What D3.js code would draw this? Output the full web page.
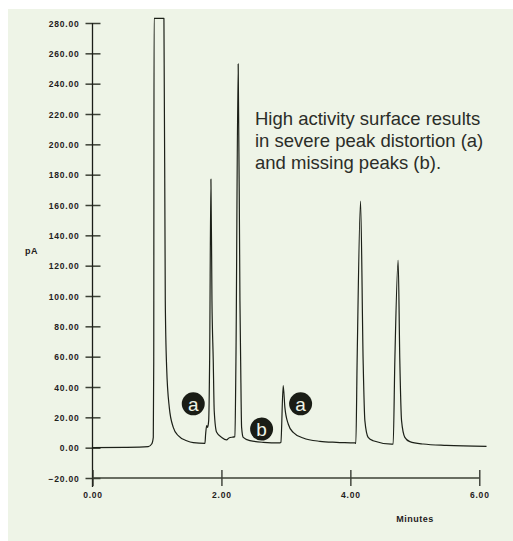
<!DOCTYPE html>
<html>
<head>
<meta charset="utf-8">
<script src="https://cdn.jsdelivr.net/npm/d3@7"></script>
<style>
  html, body { margin: 0; padding: 0; background: #fff; }
  svg { display: block; font-family: "Liberation Sans", Arial, Helvetica, sans-serif; }
</style>
</head>
<body>
<div id="chart"></div>
<script>
// chromatogram trace (minutes, pA)
const traceTimes = [
  0.00, 0.50, 0.865, 0.918, 0.943, 0.950, 0.955, 1.108, 1.129, 1.150, 1.191, 1.253, 1.330, 1.460, 1.563, 1.744,
  1.755, 1.771, 1.786, 1.802, 1.817, 1.837, 1.853, 1.873, 1.888, 1.926, 2.003, 2.081, 2.116, 2.209,
  2.225, 2.260, 2.287, 2.298, 2.313, 2.338, 2.442, 2.648, 2.907,
  2.922, 2.958, 2.984, 3.036, 3.113, 3.268, 3.527, 3.786, 4.070,
  4.085, 4.105, 4.158, 4.198, 4.225, 4.276, 4.353, 4.638, 4.664,
  4.690, 4.741, 4.767, 4.794, 4.845, 4.922, 5.129, 5.491, 6.112
]
const traceValues = [
  0.0, 0.2, 0.7, 2.4, 6.8, 57, 283, 283, 97, 53, 26.6, 13.4, 7.9, 4.6, 3.3, 2.8,
  9.0, 14.5, 13.4, 17.8, 57.5, 177, 97, 57.5, 24.4, 10.1, 6.8, 5.1, 6.4, 7.3,
  57.5, 253, 97, 57.5, 13.4, 6.8, 4.6, 3.5, 3.1,
  3.5, 41, 26.6, 15.6, 10.1, 6.4, 4.2, 3.5, 3.1,
  2.8, 57.5, 162.5, 57.5, 17.8, 6.8, 4.6, 2.4, 2.4,
  57.5, 123.5, 57.5, 17.8, 6.8, 4.0, 2.4, 1.5, 0.9
]

// circled markers
const markerLabels = ['a', 'b', 'a']
const markerTimes = [1.563, 2.623, 3.228]
const markerValues = [28.9, 12.3, 28.9]

const xTicks = [0, 2, 4, 6]
const yTicks = [-20, 0, 20, 40, 60, 80, 100, 120, 140, 160, 180, 200, 220, 240, 260, 280]

const noteLines = [
  'High activity surface results',
  'in severe peak distortion (a)',
  'and missing peaks (b).'
]

const width = 513
const height = 541

const svg = d3.select('#chart')
  .append('svg')
  .attr('width', width)
  .attr('height', height)

// panel
svg.append('rect')
  .attr('x', 8).attr('y', 9)
  .attr('width', width - 8).attr('height', height - 9)
  .attr('fill', '#eef4e7')

const x = d3.scaleLinear().domain([0, 6]).range([92.5, 479.3])
const y = d3.scaleLinear().domain([-20, 280]).range([478, 23])

// y axis
const yAxis = svg.append('g')
  .attr('transform', `translate(${x(0)},0)`)
  .call(d3.axisLeft(y).tickValues(yTicks).tickSize(7).tickFormat(d3.format('.2f')))

yAxis.select('.domain').remove()
yAxis.append('line')
  .attr('x1', 0).attr('x2', 0)
  .attr('y1', y(280)).attr('y2', 487)
  .attr('stroke', '#1b1d18').attr('stroke-width', 1.3)
yAxis.selectAll('.tick line')
  .attr('x1', -7).attr('x2', 8)
  .attr('stroke', '#3b4035').attr('stroke-width', 1.5)
yAxis.selectAll('.tick text')
  .attr('x', -13)
  .attr('dy', '0.36em')
  .style('font-size', '8.5px')
  .style('font-weight', 'bold')
  .style('letter-spacing', '0.8px')
  .attr('fill', '#1f211c')

// x axis
const xAxis = svg.append('g')
  .attr('transform', `translate(0,${y(-20)})`)
  .call(d3.axisBottom(x).tickValues(xTicks).tickSize(8).tickFormat(d3.format('.2f')))

xAxis.select('.domain').remove()
xAxis.append('line')
  .attr('x1', x(0)).attr('x2', x(6))
  .attr('y1', 0).attr('y2', 0)
  .attr('stroke', '#3b4035').attr('stroke-width', 1.5)
xAxis.selectAll('.tick line')
  .attr('y1', -8).attr('y2', 8)
  .attr('stroke', '#2a2d26').attr('stroke-width', 1.3)
xAxis.selectAll('.tick text')
  .attr('y', 14)
  .attr('dy', '0.71em')
  .style('font-size', '8.5px')
  .style('font-weight', 'bold')
  .style('letter-spacing', '0.8px')
  .attr('fill', '#1f211c')

// axis titles
svg.append('text')
  .attr('x', 25).attr('y', 254)
  .style('font-size', '9px')
  .style('font-weight', 'bold')
  .style('letter-spacing', '0.5px')
  .attr('fill', '#1f211c')
  .text('pA')

svg.append('text')
  .attr('x', 415).attr('y', 522)
  .attr('text-anchor', 'middle')
  .style('font-size', '9px')
  .style('font-weight', 'bold')
  .style('letter-spacing', '0.5px')
  .attr('fill', '#1f211c')
  .text('Minutes')

// trace
const trace = traceTimes.map((t, i) => [t, traceValues[i]])
svg.append('path')
  .datum(trace)
  .attr('fill', 'none')
  .attr('stroke', '#1c2018')
  .attr('stroke-width', 1.2)
  .attr('stroke-linejoin', 'round')
  .attr('d', d3.line()
    .x(d => x(d[0]))
    .y(d => y(d[1]))
    .curve(d3.curveMonotoneX))

// markers
const marker = svg.selectAll('.marker')
  .data(markerLabels)
  .join('g')
  .attr('class', 'marker')
  .attr('transform', (d, i) => `translate(${x(markerTimes[i])},${y(markerValues[i])})`)

marker.append('circle')
  .attr('r', 11.5)
  .attr('fill', '#1a1d16')

marker.append('text')
  .attr('text-anchor', 'middle')
  .attr('dy', '0.36em')
  .style('font-size', '19px')
  .attr('fill', '#eef4e7')
  .text(d => d)

// note
svg.append('text')
  .attr('x', 255)
  .attr('y', 125)
  .style('font-size', '18.5px')
  .attr('fill', '#2b2d28')
  .selectAll('tspan')
  .data(noteLines)
  .join('tspan')
  .attr('x', 255)
  .attr('dy', (d, i) => i === 0 ? 0 : 22)
  .text(d => d)
</script>
</body>
</html>
